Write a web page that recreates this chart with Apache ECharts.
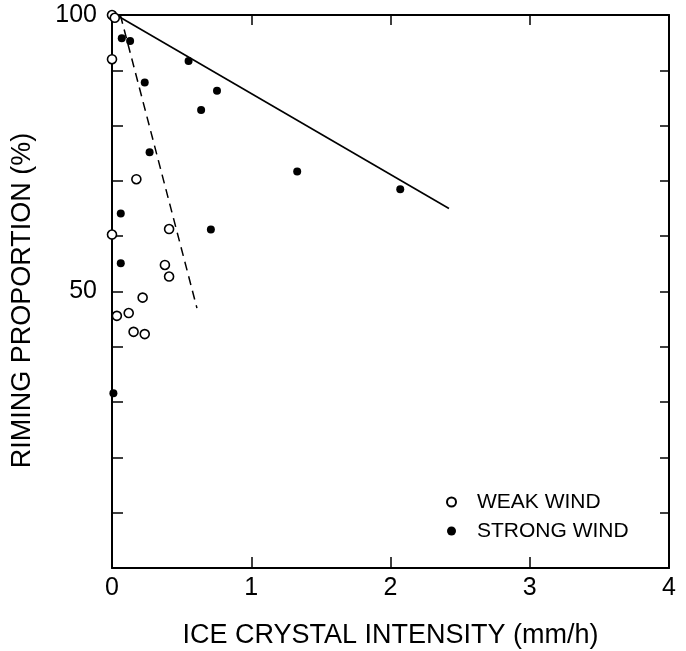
<!DOCTYPE html>
<html>
<head>
<meta charset="utf-8">
<script src="https://cdn.jsdelivr.net/npm/echarts@6/dist/echarts.min.js"></script>
<style>html,body{margin:0;padding:0;background:#fff;}#c{width:686px;height:651px;}</style>
</head>
<body>
<div id="c"></div>
<script>
var xTicks = [0, 1, 2, 3, 4];
var yTickLabels = [50, 100];
var weakX = [0.0, 0.02, 0.0, 0.175, 0.0, 0.41, 0.38, 0.41, 0.22, 0.035, 0.12, 0.155, 0.235];
var weakY = [100, 99.5, 92.0, 70.3, 60.3, 61.3, 54.8, 52.7, 48.9, 45.6, 46.1, 42.7, 42.3];
var strongX = [0.07, 0.13, 0.55, 0.235, 0.754, 0.64, 0.27, 1.33, 2.07, 0.063, 0.71, 0.063, 0.01];
var strongY = [95.8, 95.3, 91.7, 87.8, 86.3, 82.8, 75.2, 71.7, 68.5, 64.1, 61.2, 55.1, 31.6];
var solidLineX = [0.03, 2.42];
var solidLineY = [100, 65];
var dashedLineX = [0.06, 0.61];
var dashedLineY = [100, 47];

function pairs(xs, ys) { return xs.map(function (x, i) { return [x, ys[i]]; }); }

var FONT = 'Liberation Sans';
var chart = echarts.init(document.getElementById('c'));
chart.setOption({
  backgroundColor: '#fff',
  animation: false,
  textStyle: { fontFamily: FONT, color: '#000' },
  grid: { left: 112, right: 17, top: 15, bottom: 83, containLabel: false, outerBoundsMode: 'none' },
  legend: {
    orient: 'vertical',
    left: 441,
    top: 485,
    itemWidth: 9,
    itemHeight: 9,
    itemGap: 5,
    textStyle: { fontFamily: FONT, fontSize: 21, color: '#000', lineHeight: 24, padding: [0, 0, 0, 16] },
    data: ['WEAK WIND', 'STRONG WIND']
  },
  xAxis: [{
    type: 'value', min: xTicks[0], max: xTicks[xTicks.length - 1], interval: 1,
    name: 'ICE CRYSTAL INTENSITY (mm/h)', nameLocation: 'middle', nameGap: 54,
    nameTextStyle: { fontFamily: FONT, fontSize: 27, color: '#000' },
    axisLine: { show: true, lineStyle: { color: '#000', width: 2 } },
    axisTick: { show: true, inside: true, length: 11, lineStyle: { color: '#000', width: 1.5 } },
    axisLabel: { fontFamily: FONT, fontSize: 25, color: '#000', margin: 8 },
    splitLine: { show: false }
  }, {
    type: 'value', position: 'top', min: 0, max: 4, interval: 1,
    axisLine: { show: true, onZero: false, lineStyle: { color: '#000', width: 2 } },
    axisTick: { show: true, inside: true, length: 10, lineStyle: { color: '#000', width: 1.5 } },
    axisLabel: { show: false },
    splitLine: { show: false }
  }],
  yAxis: [{
    type: 'value', min: 0, max: 100, interval: 10,
    name: 'RIMING PROPORTION (%)', nameLocation: 'middle', nameGap: 76, nameRotate: 90,
    nameTextStyle: { fontFamily: FONT, fontSize: 27, color: '#000', padding: [0, 18, 0, 0] },
    axisLine: { show: true, lineStyle: { color: '#000', width: 2 } },
    axisTick: { show: true, inside: true, length: 11, lineStyle: { color: '#000', width: 1.5 } },
    axisLabel: {
      fontFamily: FONT, fontSize: 25, color: '#000', margin: 15,
      formatter: function (v) { return yTickLabels.indexOf(v) >= 0 ? String(v) : ''; }
    },
    splitLine: { show: false }
  }, {
    type: 'value', position: 'right', min: 0, max: 100, interval: 10,
    axisLine: { show: true, onZero: false, lineStyle: { color: '#000', width: 2 } },
    axisTick: { show: true, inside: true, length: 9, lineStyle: { color: '#000', width: 1.5 } },
    axisLabel: { show: false },
    splitLine: { show: false }
  }],
  series: [{
    name: 'solid fit', type: 'line', data: pairs(solidLineX, solidLineY),
    symbol: 'none', lineStyle: { color: '#000', width: 1.6 }, z: 2, silent: true
  }, {
    name: 'dashed fit', type: 'line', data: pairs(dashedLineX, dashedLineY),
    symbol: 'none', lineStyle: { color: '#000', width: 1.5, type: [9, 6] }, z: 2, silent: true
  }, {
    name: 'WEAK WIND', type: 'scatter', data: pairs(weakX, weakY),
    symbol: 'circle', symbolSize: 9,
    itemStyle: { color: '#fff', borderColor: '#000', borderWidth: 1.6, opacity: 1 }, z: 3
  }, {
    name: 'STRONG WIND', type: 'scatter', data: pairs(strongX, strongY),
    symbol: 'circle', symbolSize: 8,
    itemStyle: { color: '#000', borderColor: '#000', borderWidth: 0, opacity: 1 }, z: 4
  }]
});
</script>
</body>
</html>
